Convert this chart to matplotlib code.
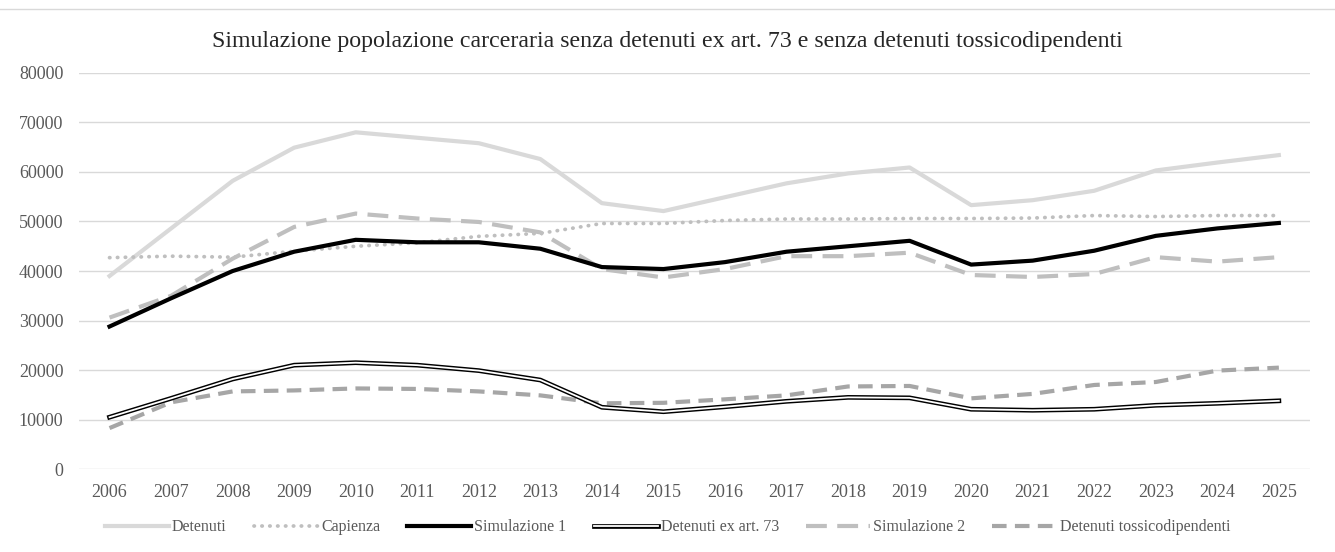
import numpy as np
import matplotlib.pyplot as plt
from matplotlib.lines import Line2D
from matplotlib.legend_handler import HandlerTuple

years = [str(y) for y in range(2006, 2026)]
detenuti = [39000, 48600, 58200, 64900, 68000, 66900, 65800, 62600, 53700, 52100,
            54900, 57700, 59700, 60900, 53300, 54300, 56200, 60300, 61900, 63400]
capienza = [42700, 43000, 42800, 44000, 45000, 45700, 47000, 47600, 49600, 49600,
            50200, 50500, 50500, 50600, 50600, 50700, 51200, 51000, 51200, 51200]
sim1 = [28800, 34500, 40000, 43900, 46300, 45800, 45800, 44500, 40800, 40400,
        41800, 43900, 45000, 46100, 41300, 42100, 44100, 47100, 48600, 49700]
ex_art73 = [10500, 14300, 18200, 21000, 21500, 21000, 19900, 18000, 12500, 11600,
            12600, 13700, 14500, 14400, 12100, 11900, 12100, 12900, 13300, 13800]
sim2 = [30600, 35000, 42500, 48900, 51600, 50600, 49900, 47800, 40400, 38700,
        40400, 43000, 43000, 43700, 39200, 38800, 39400, 42800, 41900, 42800]
tossico = [8300, 13500, 15700, 15900, 16300, 16200, 15700, 14900, 13300, 13400,
           14100, 14900, 16700, 16800, 14300, 15200, 17000, 17600, 19900, 20500]

plt.rcParams['font.family'] = ['Liberation Serif', 'DejaVu Serif']

fig = plt.figure(figsize=(13.35, 5.52), dpi=100)
ax = fig.add_axes([0.059, 0.150, 0.922, 0.718])
x = np.arange(len(years))

dot = (0, (0.1, 2.0))
ax.plot(x, detenuti, color='#d9d9d9', lw=3, zorder=3)
ax.plot(x, capienza, color='#bfbfbf', lw=2.7, linestyle=dot,
        dash_capstyle='round', zorder=3)
ax.plot(x, sim1, color='black', lw=3, zorder=4)
ax.plot(x, ex_art73, color='black', lw=3.4, zorder=4)
ax.plot(x, ex_art73, color='white', lw=1.3, zorder=5)
ax.plot(x, sim2, color='#bfbfbf', lw=3, linestyle=(0, (5, 2.5)), zorder=3)
ax.plot(x, tossico, color='#a6a6a6', lw=3, linestyle=(0, (3.5, 2)), zorder=3)

ax.set_xlim(-0.5, len(years) - 0.5)
ax.set_ylim(0, 80000)
ax.set_yticks(range(0, 80001, 10000))
ax.set_xticks(x)
ax.set_xticklabels(years)
ax.grid(axis='y', color='#d9d9d9', lw=1)
ax.set_axisbelow(True)
for s in ax.spines.values():
    s.set_visible(False)
ax.tick_params(length=0, labelsize=13, colors='#595959')
ax.tick_params(axis='x', pad=11)
ax.tick_params(axis='y', pad=11)

fig.text(0.5, 0.924, 'Simulazione popolazione carceraria senza detenuti ex art. 73 e senza detenuti tossicodipendenti',
         ha='center', va='center', fontsize=17.2, color='#262626')
fig.add_artist(Line2D([0, 1], [0.984, 0.984], color='#d9d9d9', lw=1))

h1 = Line2D([], [], color='#d9d9d9', lw=3)
h2 = Line2D([], [], color='#bfbfbf', lw=2.7, linestyle=dot, dash_capstyle='round')
h3 = Line2D([], [], color='black', lw=3)
h4 = (Line2D([], [], color='black', lw=3.4), Line2D([], [], color='white', lw=1.3))
h5 = Line2D([], [], color='#bfbfbf', lw=3, linestyle=(0, (5, 2.5)))
h6 = Line2D([], [], color='#a6a6a6', lw=3, linestyle=(0, (3.5, 2)))
fig.legend([h1, h2, h3, h4, h5, h6],
           ['Detenuti', 'Capienza', 'Simulazione 1', 'Detenuti ex art. 73',
            'Simulazione 2', 'Detenuti tossicodipendenti'],
           handler_map={tuple: HandlerTuple(ndivide=1)},
           loc='center', bbox_to_anchor=(0.5, 0.045), ncol=6, frameon=False,
           fontsize=11.5, handlelength=4.0, handletextpad=0.2, columnspacing=1.7,
           labelcolor='#595959')

plt.savefig('out.png', dpi=100)
